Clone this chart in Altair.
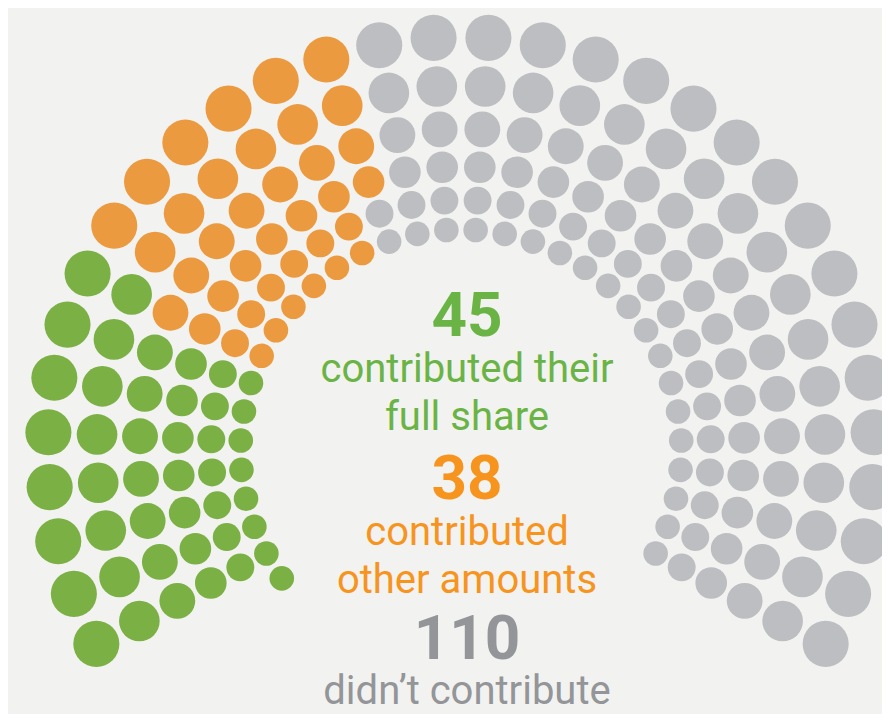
import math
import altair as alt
import pandas as pd

# ---- data ----
categories = ["contributed their full share", "contributed other amounts", "didn’t contribute"]
counts = [45, 38, 110]
dot_colors = ["#7bb045", "#ec9a40", "#bdbec1"]
text_colors = ["#6ab445", "#f7941e", "#939598"]
label_lines = [["contributed their", "full share"], ["contributed", "other amounts"], ["didn’t contribute"]]

# ---- parliament layout (6 rings, circle size grows with ring radius) ----
W, H = 874, 706
CX, CY = 461, 450          # arc centre (page px)
R_OUT = 413
RING_FACTOR = 0.882
N_RINGS = 6
N_SPOKES = 32
A_START, A_SPAN = 208.0, 236.0
step = A_SPAN / (N_SPOKES - 1)

seats = []
# one extra seat at the start of the innermost ring
seats.append((A_START + step, N_RINGS - 1))
for i in range(N_SPOKES):
    a = A_START - i * step
    for k in range(N_RINGS):
        seats.append((a, k))

cat_of_seat = []
for c, n in zip(categories, counts):
    cat_of_seat += [c] * n

rows = []
for (a, k), c in zip(seats, cat_of_seat):
    r = R_OUT * RING_FACTOR ** k
    d = 0.1259 * r
    rad = math.radians(a)
    rows.append({
        "x": CX + r * math.cos(rad),
        "y": CY - r * math.sin(rad),
        "size": math.pi * d * d / 4,
        "group": c,
    })
df = pd.DataFrame(rows)

xs = alt.Scale(domain=[8, 8 + W], zero=False, nice=False)
ys = alt.Scale(domain=[8 + H, 8], zero=False, nice=False)

dots = alt.Chart(df).mark_circle(opacity=1, strokeWidth=0).encode(
    x=alt.X("x:Q", scale=xs, axis=None),
    y=alt.Y("y:Q", scale=ys, axis=None),
    size=alt.Size("size:Q", scale=None, legend=None),
    color=alt.Color("group:N", scale=alt.Scale(domain=categories, range=dot_colors), legend=None),
)

# ---- centre labels ----
TX = 467 - 8
num_base = [336, 499, 659]
line_bases = [[382, 430], [545, 593], [704]]
layers = [dots]
for i in range(3):
    layers.append(
        alt.Chart(pd.DataFrame({"t": [str(counts[i])]})).mark_text(
            font="Roboto", fontSize=62, fontWeight="bold", color=text_colors[i],
            align="center", baseline="alphabetic",
        ).encode(text="t:N", x=alt.value(TX), y=alt.value(num_base[i] - 8))
    )
    for line, b in zip(label_lines[i], line_bases[i]):
        layers.append(
            alt.Chart(pd.DataFrame({"t": [line]})).mark_text(
                font="Roboto", fontSize=40, color=text_colors[i],
                align="center", baseline="alphabetic",
            ).encode(text="t:N", x=alt.value(TX), y=alt.value(b - 8))
        )

chart = alt.layer(*layers).properties(
    width=W, height=H, padding=0, autosize="none", background="#f2f2f0"
).configure_view(stroke=None)

chart.save("out.html", embed_options={"renderer": "svg", "actions": False})
